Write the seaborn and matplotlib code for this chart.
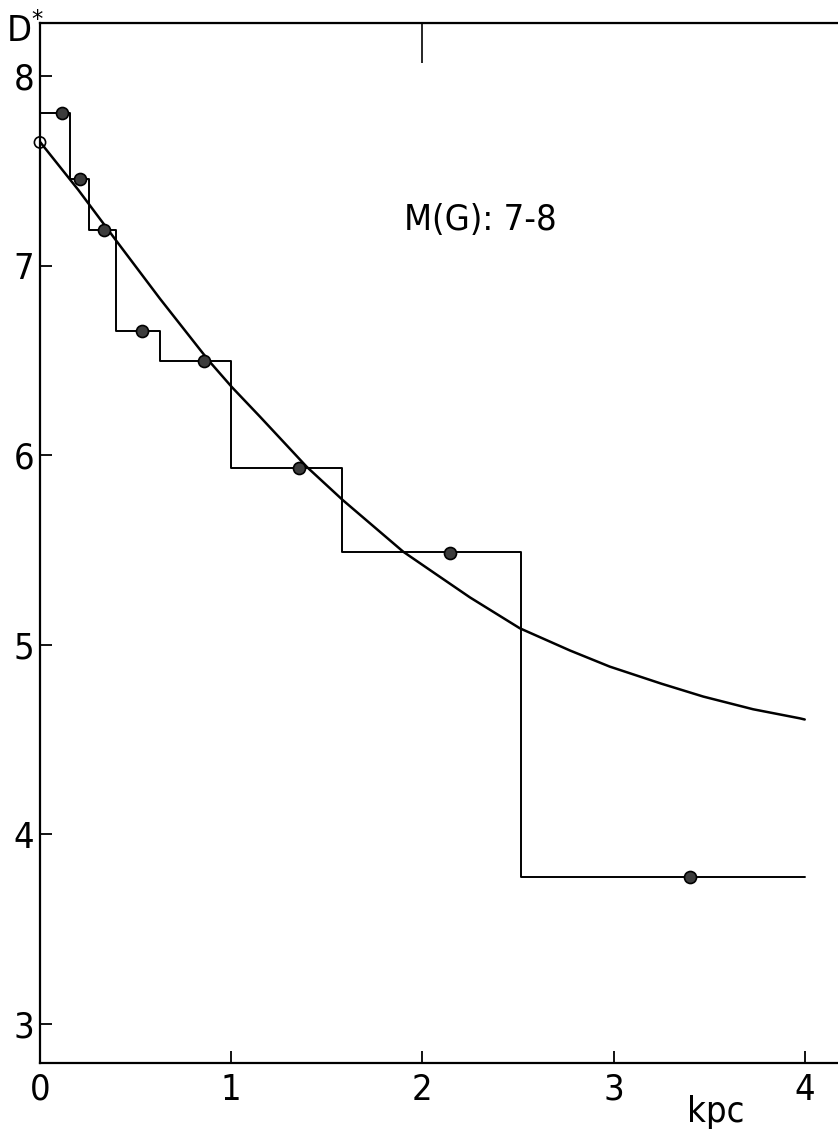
"""
Radial profile of D* for M(G) 7-8: binned steps, bin means and fitted curve.
"""

import matplotlib
matplotlib.use("Agg")
import pandas as pd
import matplotlib.pyplot as plt
import seaborn as sns

# ------------------------------------------------------------------
# data
# ------------------------------------------------------------------
bin_edges  = [0.0, 0.157, 0.256, 0.40, 0.628, 1.0, 1.58, 2.516, 4.0]   # kpc
bin_levels = [7.805, 7.455, 7.19, 6.655, 6.497, 5.933, 5.488, 3.775]

point_x = [0.113, 0.211, 0.336, 0.535, 0.858, 1.356, 2.142, 3.40]
point_y = [7.805, 7.455, 7.19, 6.655, 6.497, 5.935, 5.485, 3.775]

origin_x = [0.0]
origin_y = [7.65]

curve_x = [0.0, 0.2, 0.4, 0.628, 0.88, 1.003, 1.151, 1.395, 1.583,
           1.90, 2.075, 2.249, 2.51, 2.772, 2.98, 3.25, 3.469, 3.73,
           3.975, 4.0]
curve_y = [7.653, 7.40, 7.13, 6.825, 6.502, 6.36, 6.203, 5.939, 5.764,
           5.491, 5.37, 5.25, 5.087, 4.97, 4.885, 4.795, 4.727, 4.66,
           4.612, 4.606]

x_ticks = [0, 1, 2, 3, 4]
y_ticks = [3, 4, 5, 6, 7, 8]
top_ticks = [2]
label_text = "M(G): 7-8"

sns.set_style("ticks")
plt.rcParams["font.family"] = ["DejaVu Sans"]
plt.rcParams["font.stretch"] = "condensed"
plt.rcParams["text.color"] = "black"
plt.rcParams["axes.labelcolor"] = "black"
plt.rcParams["mathtext.default"] = "regular"

W, H = 838, 1134
fig = plt.figure(figsize=(W / 100, H / 100), dpi=100)
ax = fig.add_axes([40 / W, 1 - 1063 / H, 798 / W, 1040 / H])

# step histogram
steps = pd.DataFrame({"x": bin_edges, "y": bin_levels + [bin_levels[-1]]})
sns.lineplot(data=steps, x="x", y="y", ax=ax, drawstyle="steps-post",
             color="black", linewidth=1.4, estimator=None, sort=False)

# fitted curve
sns.lineplot(x=curve_x, y=curve_y, ax=ax, color="black", linewidth=1.8,
             estimator=None, sort=False)

# bin means
sns.scatterplot(x=point_x, y=point_y, ax=ax, s=75, color="#3c3c3c",
                edgecolor="black", linewidth=1.2, zorder=4)
sns.scatterplot(x=origin_x, y=origin_y, ax=ax, s=65, facecolors="none",
                edgecolor="black", linewidth=1.2, zorder=4, clip_on=False)

ax.text(2.306, 7.24, label_text, fontsize=26, ha="center", va="center")

ax.set_xlim(0, 4.174)
ax.set_ylim(2.794, 8.28)
ax.set_xticks(x_ticks)
ax.set_yticks(y_ticks)
ax.tick_params(direction="in", length=8.6, width=1.3, labelsize=26,
               colors="black")
ax.tick_params(axis="x", pad=7)
ax.tick_params(axis="y", pad=4)

for side in ["left", "bottom", "top"]:
    ax.spines[side].set_linewidth(1.6)
    ax.spines[side].set_color("black")
ax.spines["right"].set_visible(False)

top = ax.secondary_xaxis("top")
top.set_xticks(top_ticks)
top.set_xticklabels([])
top.tick_params(direction="in", length=29, width=1.4)

ax.set_xlabel("kpc", fontsize=26)
ax.xaxis.set_label_coords(0.847, -0.031)
ax.set_ylabel(r"D$^{*}$", fontsize=26, rotation=0, ha="left", va="baseline")
ax.yaxis.set_label_coords(-0.0426, 0.982)

fig.savefig("out.png", dpi=100)
